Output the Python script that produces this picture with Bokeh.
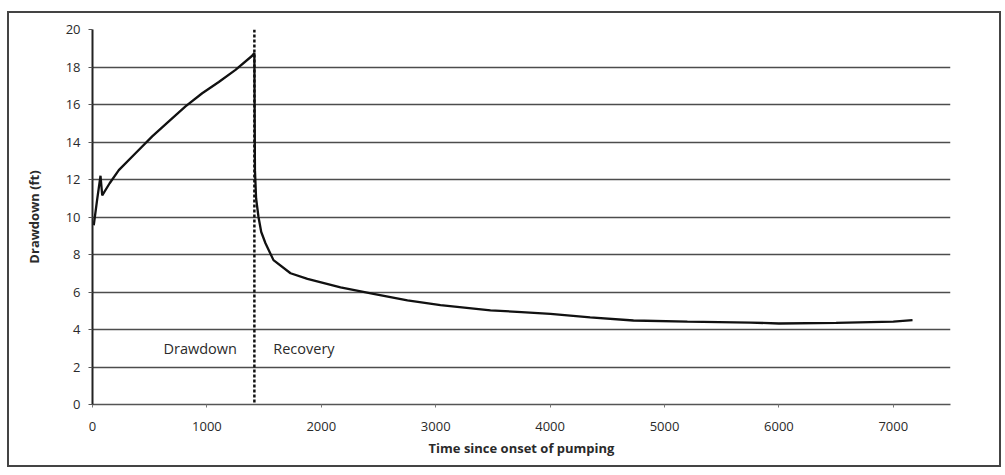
from bokeh.plotting import figure
from bokeh.models import Range1d, Span, Label, FixedTicker
from bokeh.embed import file_html
from bokeh.resources import INLINE

# Time since onset of pumping (minutes) and drawdown (ft)
time_min = [11, 40, 70, 85, 150, 230, 376, 522, 667, 813, 959, 1104, 1250, 1396, 1415,
            1420, 1430, 1451, 1475, 1512, 1582, 1731, 1879, 2168, 2456, 2753, 3042, 3479, 3750,
            4003, 4350, 4729, 5200, 5752, 6000, 6500, 7000, 7168]
drawdown_ft = [9.56, 10.9, 12.2, 11.15, 11.8, 12.5, 13.4, 14.3, 15.1, 15.9, 16.6, 17.2, 17.85, 18.6, 18.75,
               12.5, 11.0, 10.0, 9.2, 8.6, 7.7, 7.0, 6.7, 6.25, 5.9, 5.55, 5.3, 5.02, 4.93,
               4.83, 4.65, 4.48, 4.42, 4.37, 4.32, 4.35, 4.42, 4.5]

pump_stop = 1415
x_ticks = [0, 1000, 2000, 3000, 4000, 5000, 6000, 7000]
y_ticks = [0, 2, 4, 6, 8, 10, 12, 14, 16, 18, 20]

p = figure(width=994, height=456, output_backend="svg", toolbar_location=None,
           x_range=Range1d(0, 7500), y_range=Range1d(0, 20),
           min_border_left=83, min_border_top=16, min_border_right=53, min_border_bottom=65)
p.styles = {"border": "2px solid #444", "margin-left": "7px", "margin-top": "11px"}
p.outline_line_color = None
p.background_fill_color = "white"
p.border_fill_color = "white"

p.xgrid.grid_line_color = None
p.ygrid.grid_line_color = "#4d4d4d"
p.ygrid.grid_line_width = 1.6
p.ygrid.ticker = FixedTicker(ticks=y_ticks)

p.xaxis.ticker = FixedTicker(ticks=x_ticks)
p.yaxis.ticker = FixedTicker(ticks=y_ticks)
p.xaxis.minor_tick_line_color = None
p.yaxis.minor_tick_line_color = None
p.xaxis.axis_line_color = "#555555"
p.xaxis.axis_line_width = 1.5
p.yaxis.axis_line_color = "#222222"
p.yaxis.axis_line_width = 2
p.xaxis.major_tick_line_color = "#777777"
p.yaxis.major_tick_line_color = "#555555"
p.xaxis.major_tick_in = 0
p.xaxis.major_tick_out = 3
p.yaxis.major_tick_in = 0
p.yaxis.major_tick_out = 4

for ax in (p.xaxis, p.yaxis):
    ax.major_label_text_font = "Open Sans"
    ax.major_label_text_font_size = "13px"
    ax.major_label_text_color = "#2a2a2a"
    ax.axis_label_text_font = "Open Sans"
    ax.axis_label_text_font_size = "13px"
    ax.axis_label_text_font_style = "bold"
    ax.axis_label_text_color = "#2a2a2a"

p.xaxis.axis_label = "Time since onset of pumping"
p.yaxis.axis_label = "Drawdown (ft)"
p.xaxis.major_label_standoff = 14
p.xaxis.axis_label_standoff = 5
p.yaxis.major_label_standoff = 8
p.yaxis.axis_label_standoff = 20

p.add_layout(Span(location=pump_stop, dimension="height", line_color="#111111",
                  line_width=2.5, line_dash="3 2"))

p.line(time_min, drawdown_ft, line_color="#111111", line_width=2.3)

p.add_layout(Label(x=620, y=3.0, text="Drawdown", text_font="Open Sans", text_font_size="14.5px",
                   text_color="#2a2a2a", text_baseline="middle"))
p.add_layout(Label(x=1580, y=3.0, text="Recovery", text_font="Open Sans", text_font_size="14.5px",
                   text_color="#2a2a2a", text_baseline="middle"))

open("out.html", "w").write(file_html(p, INLINE))
